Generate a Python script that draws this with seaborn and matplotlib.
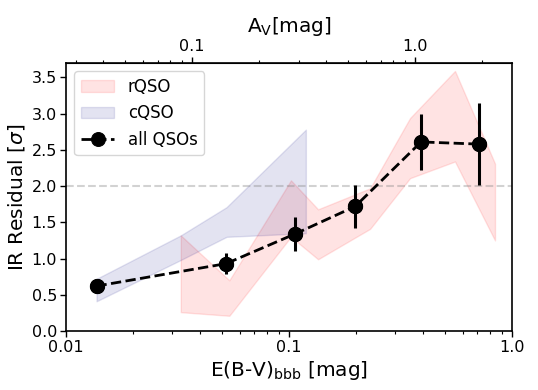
import numpy as np
import pandas as pd
import seaborn as sns
import matplotlib.pyplot as plt
from matplotlib.ticker import NullFormatter, FixedLocator, LogLocator

# all QSOs
ebv_all = [0.0137, 0.0522, 0.1064, 0.198, 0.391, 0.711]
res_all = [0.62, 0.93, 1.34, 1.72, 2.61, 2.58]
err_all = [0.08, 0.15, 0.23, 0.30, 0.39, 0.57]

# rQSO band
ebv_r = [0.0327, 0.0540, 0.102, 0.135, 0.231, 0.349, 0.555, 0.839]
r_hi = [1.32, 0.70, 2.08, 1.68, 1.97, 2.94, 3.59, 2.31]
r_lo = [0.26, 0.21, 1.30, 0.99, 1.41, 2.11, 2.34, 1.25]

# cQSO band
ebv_c = [0.0137, 0.0327, 0.0525, 0.119]
c_hi = [0.72, 1.32, 1.71, 2.78]
c_lo = [0.41, 0.98, 1.30, 1.35]

RV = 2.72

blk = {'axes.edgecolor': 'black', 'text.color': 'black', 'xtick.color': 'black',
       'ytick.color': 'black', 'axes.labelcolor': 'black'}
sns.set_style("ticks", blk)
plt.rcParams['font.family'] = ['DejaVu Sans']

fig, ax = plt.subplots(figsize=(5.38, 3.9), dpi=100)
fig.subplots_adjust(left=0.1227, right=0.9517, top=0.8385, bottom=0.1513)

ax.fill_between(ebv_r, r_lo, r_hi, color='red', alpha=0.11, label='rQSO')
ax.fill_between(ebv_c, c_lo, c_hi, color='navy', alpha=0.11, label='cQSO')
ax.axhline(2.0, color='gray', ls='--', lw=1.5, alpha=0.35)

df = pd.DataFrame({'ebv': ebv_all, 'res': res_all, 'err': err_all})
ax.errorbar(df['ebv'], df['res'], yerr=df['err'], fmt='o', color='black',
            ms=10, elinewidth=2.2, capsize=0, zorder=4)
sns.lineplot(data=df, x='ebv', y='res', ax=ax, color='black', lw=2,
             ls='--', marker='o', ms=10, mec='black', label='all QSOs', zorder=5)

ax.set_xscale('log')
ax.set_xlim(0.01, 1.0)
ax.set_ylim(0, 3.7)
ax.set_yticks(np.arange(0, 3.6, 0.5))
ax.set_xticks([0.01, 0.1, 1.0], labels=['0.01', '0.1', '1.0'])
ax.xaxis.set_minor_formatter(NullFormatter())
ax.tick_params(labelsize=11.5, width=1, length=4, pad=2.5)
ax.tick_params(which='minor', width=0.8, length=2.5)
for s in ax.spines.values():
    s.set_linewidth(1.2)

ax.set_xlabel(r'E(B-V)$_{\rm bbb}$ [mag]', fontsize=14.5, labelpad=3)
ax.set_ylabel(r'IR Residual [$\sigma$]', fontsize=14.5, labelpad=3)

top = ax.secondary_xaxis('top', functions=(lambda x: x * RV, lambda x: x / RV))
top.set_xscale('log')
top.xaxis.set_major_locator(FixedLocator([0.1, 1.0]))
top.set_xticklabels(['0.1', '1.0'])
top.xaxis.set_minor_locator(LogLocator(subs=np.arange(2, 10)))
top.xaxis.set_minor_formatter(NullFormatter())
top.tick_params(labelsize=11.5, width=1, length=4, pad=2.5)
top.tick_params(which='minor', width=0.8, length=2.5)
top.set_xlabel(r'A$_{\rm V}$[mag]', fontsize=14.5, labelpad=5)

handles, labels = ax.get_legend_handles_labels()
leg = ax.legend(handles, labels, loc='upper left', fontsize=12, frameon=True)

fig.savefig('out.png', dpi=100)
